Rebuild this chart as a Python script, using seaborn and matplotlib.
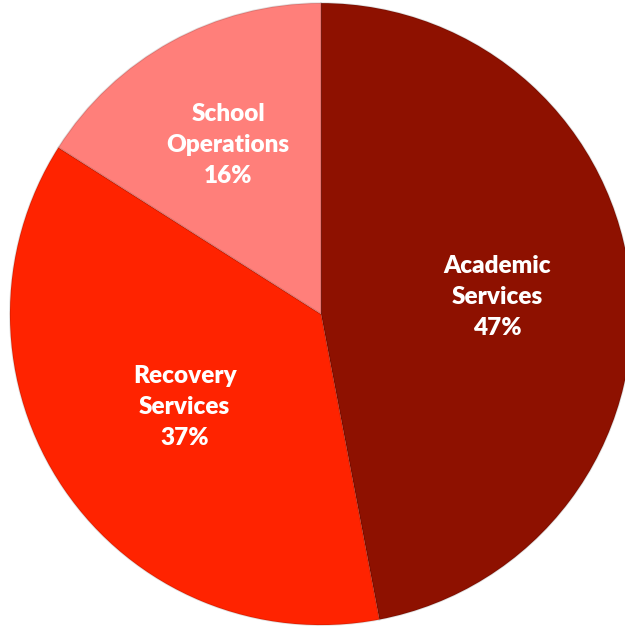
import numpy as np
import matplotlib
matplotlib.use("Agg")
import matplotlib.pyplot as plt
import seaborn as sns

# data
categories = ["Academic\nServices", "Recovery\nServices", "School\nOperations"]
shares = [47, 37, 16]
colors = ["#8E1100", "#FF2300", "#FF7F7A"]
label_r = [0.57, 0.53, 0.62]

sns.set_theme(style="white")
plt.rcParams['font.family'] = ['Lato', 'DejaVu Sans']

fig = plt.figure(figsize=(6.25, 6.26), dpi=100)
ax = fig.add_axes([0, 0, 1, 1])

wedges, _ = ax.pie(shares, colors=sns.color_palette(colors), startangle=90,
                   counterclock=False,
                   wedgeprops=dict(edgecolor=(0, 0, 0, 0.12), linewidth=1.2))

for w, cat, v, r in zip(wedges, categories, shares, label_r):
    mid = np.deg2rad((w.theta1 + w.theta2) / 2)
    ax.text(r * np.cos(mid), r * np.sin(mid), f"{cat}\n{v}%",
            ha="center", va="center", color="white", fontsize=17.5,
            fontweight="heavy", linespacing=1.5)

ax.set_aspect("auto")
ax.set_xlim(-1.032, 0.977)
ax.set_ylim(-1.003, 1.01)
ax.axis("off")

fig.savefig("out.png", dpi=100, facecolor="white")
